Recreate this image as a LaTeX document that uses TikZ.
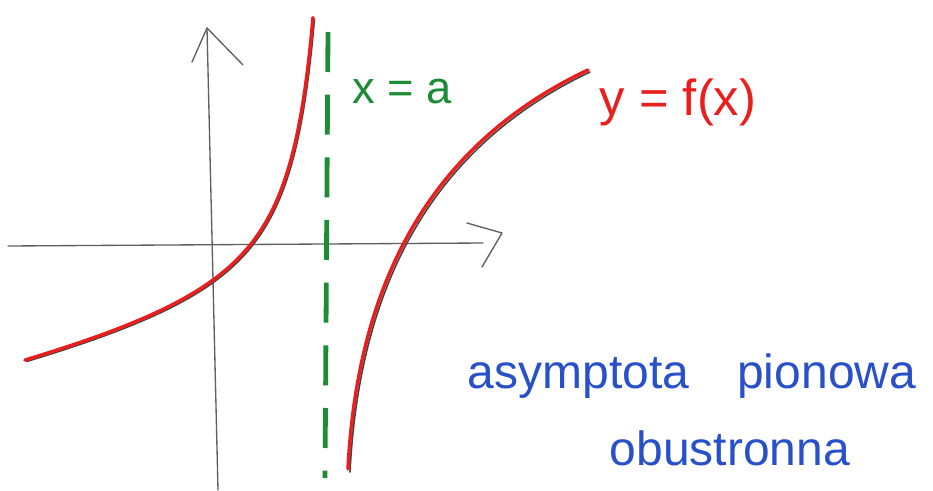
\documentclass[tikz,border=0pt]{standalone}
\usepackage{fontspec}
\setmainfont{Liberation Sans}
\definecolor{pencil}{RGB}{95,95,95}
\definecolor{redpen}{RGB}{235,30,30}
\definecolor{greenpen}{RGB}{30,140,55}
\definecolor{bluepen}{RGB}{40,80,200}
\begin{document}
\begin{tikzpicture}[x=0.75pt,y=-0.75pt,
  axisline/.style={draw=pencil,line width=1pt,line cap=round,line join=round},
  curvered/.style={draw=redpen,line width=2.6pt,line cap=round},
  curvegray/.style={draw=pencil!70!black,line width=1.2pt,line cap=round},
  asym/.style={draw=greenpen,line width=3.6pt,dash pattern=on 30pt off 17pt},
  lbl/.style={inner sep=0pt}]
\useasboundingbox (0,0) rectangle (933,490);
\fill[white] (0,0) rectangle (933,490);
% axes
\coordinate (xs) at (8,246);
\coordinate (xe) at (483,243);
\coordinate (ys) at (218,490);
\coordinate (ye) at (207,28);
\draw[axisline] (xs) -- (xe);
\draw[axisline] (467,223) -- (502,233) -- (482,267);
\draw[axisline] (ys) -- (ye);
\draw[axisline] (192,62) -- (207,28) -- (243,65);
% asymptote
\coordinate (as) at (328,32);
\coordinate (ae) at (325,478);
\draw[asym] (as) -- (ae);
% left branch
\draw[curvegray,shift={(1.5,1.5)}] plot[domain=25:313,samples=120,smooth] (\x,{391.7-0.2194*\x-8247/(340-\x)});
\draw[curvered] plot[domain=25:313,samples=120,smooth] (\x,{391.7-0.2194*\x-8247/(340-\x)});
% right branch
\draw[curvegray] (350,472) .. controls (360,272) and (442,142) .. (590,72);
\draw[curvered] (348,469) .. controls (358,270) and (440,140) .. (588,70);
% labels
\node[lbl,text=greenpen,font=\fontsize{34}{40}\selectfont] (lx) at (402,92) {x = a};
\node[lbl,text=redpen,font=\fontsize{38}{44}\selectfont] (ly) at (678,102) {y = f(x)};
\node[lbl,text=bluepen,font=\fontsize{36}{42}\selectfont] (l1) at (692,376) {asymptota\quad pionowa};
\node[lbl,text=bluepen,font=\fontsize{36}{42}\selectfont] (l2) at (730,448) {obustronna};
\end{tikzpicture}
\end{document}
